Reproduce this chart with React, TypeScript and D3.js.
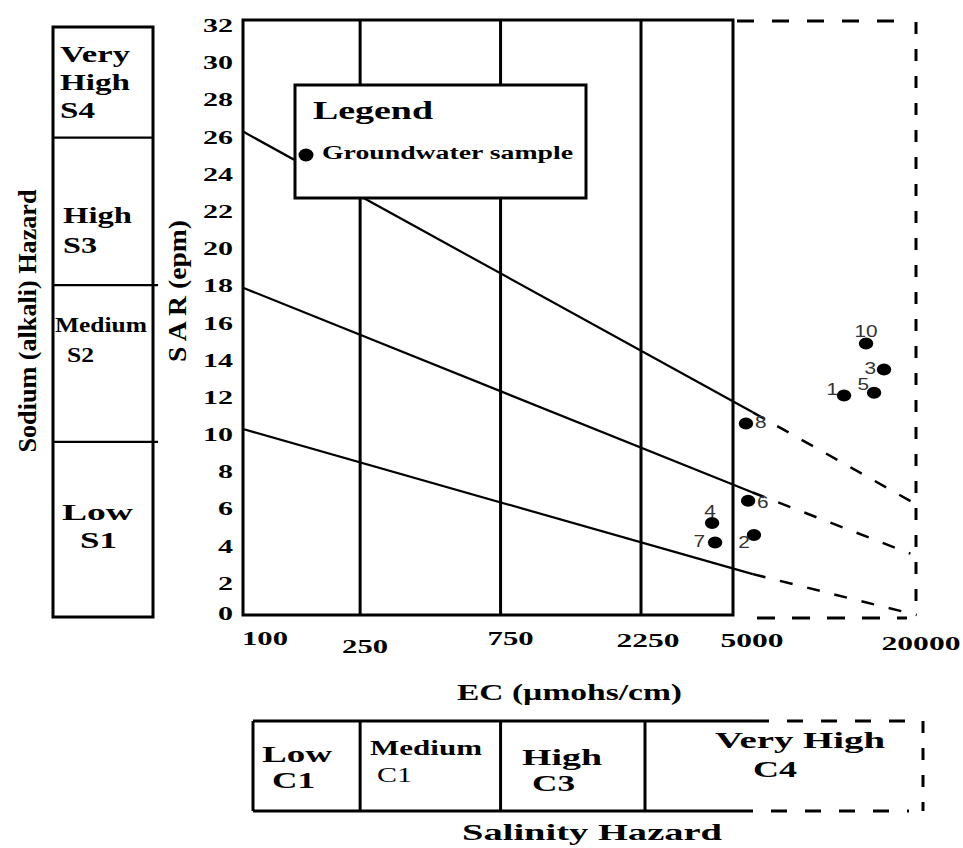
import React from 'react';
import * as d3 from 'd3';

// ---------------- DATA ----------------
const ecTicks = [100, 250, 750, 2250, 5000, 20000];
const ecGridValues = [250, 750, 2250];
const sarTicks = [0, 2, 4, 6, 8, 10, 12, 14, 16, 18, 20, 22, 24, 26, 28, 30, 32];

const sampleIds = ['1', '2', '3', '4', '5', '6', '7', '8', '10'];
const sampleEC = [11490, 5850, 15500, 4170, 14390, 5600, 4280, 5510, 13550];
const sampleSAR = [11.8, 4.3, 13.2, 4.95, 11.95, 6.15, 3.9, 10.3, 14.6];

// hazard boundary lines: [start, end of solid part, end of dashed part]
const lineS3S4EC = [100, 5800, 20000];
const lineS3S4SAR = [26.0, 10.9, 5.9];
const lineS2S3EC = [100, 5770, 18900];
const lineS2S3SAR = [17.6, 6.6, 3.3];
const lineS1S2EC = [100, 5800, 19800];
const lineS1S2SAR = [10.0, 2.2, 0.0];

// sodium strip class bounds (SAR)
const sodiumBounds = [0, 9.5, 18, 26, 32];

// ---------------- LAYOUT ----------------
const W = 963;
const H = 848;
const serif = '"Liberation Serif", "Times New Roman", serif';
const sans = '"Liberation Sans", Arial, sans-serif';

const x = d3.scaleLog().domain([100, 2250, 5000, 20000]).range([243, 641, 733, 918]);
const y = d3.scaleLinear().domain([0, 32]).range([615, 20]);
const yStrip = d3.scaleLinear().domain([0, 32]).range([617, 27]);

const ecLabelDx = [0, 5, 10, 7, 19, 3];
const ecLabelDy = [0, 8, 0, 2, 2, 5];

const pointLabelPlace: { dx: number; dy: number; anchor: string }[] = [
  { dx: -6, dy: -1, anchor: 'end' },   // 1
  { dx: -4, dy: 13, anchor: 'end' },   // 2
  { dx: -8, dy: 4, anchor: 'end' },    // 3
  { dx: -2, dy: -6, anchor: 'middle' },// 4
  { dx: -5, dy: -3, anchor: 'end' },   // 5
  { dx: 9, dy: 7, anchor: 'start' },   // 6
  { dx: -10, dy: 5, anchor: 'end' },   // 7
  { dx: 9, dy: 5, anchor: 'start' },   // 8
  { dx: 0, dy: -7, anchor: 'middle' }, // 10
];

function HText(props: {
  x: number; y: number; w: number; size: number; weight?: string; children: any; family?: string;
}) {
  const { x: tx, y: ty, w, size, weight = 'bold', children, family = serif } = props;
  return (
    <text
      x={tx}
      y={ty}
      fontSize={size}
      fontWeight={weight}
      fontFamily={family}
      textLength={w}
      lengthAdjust="spacingAndGlyphs"
      fill="#000"
    >
      {children}
    </text>
  );
}

function hazardLine(ecs: number[], sars: number[], key: string) {
  const line = d3.line<[number, number]>().x((d) => x(d[0])).y((d) => y(d[1]));
  const pts: [number, number][] = ecs.map((e, i) => [e, sars[i]]);
  return (
    <g key={key}>
      <path d={line([pts[0], pts[1]]) || ''} stroke="#000" strokeWidth={2.2} fill="none" />
      <path
        d={line([pts[1], pts[2]]) || ''}
        stroke="#000"
        strokeWidth={2.5}
        fill="none"
        strokeDasharray="13,15"
      />
    </g>
  );
}

export default function App() {
  const x0 = x(100);
  const x5000 = x(5000);
  const xEnd = x(20000);
  const yTop = y(32);
  const yBot = y(0);

  const digitW = 15;

  const stripTop = 721;
  const stripBot = 811;
  const stripLeft = x0 + 10;
  const stripRight = xEnd + 5;

  return (
    <svg
      width={W}
      height={H}
      style={{ position: 'absolute', left: 0, top: 0, background: '#fff' }}
    >
      <rect x={0} y={0} width={W} height={H} fill="#fff" />

      {/* ---------- Sodium hazard strip ---------- */}
      <g>
        <rect
          x={53}
          y={yStrip(32)}
          width={100}
          height={yStrip(0) - yStrip(32)}
          fill="none"
          stroke="#000"
          strokeWidth={3}
        />
        {sodiumBounds.slice(1, -1).map((b) => (
          <line key={b} x1={53} x2={b === 26 ? 153 : 158} y1={yStrip(b)} y2={yStrip(b)} stroke="#000" strokeWidth={2.2} />
        ))}
        <HText x={60} y={62} w={70} size={23}>Very</HText>
        <HText x={60} y={90} w={70} size={23}>High</HText>
        <HText x={60} y={118} w={35} size={23}>S4</HText>
        <HText x={63} y={223} w={69} size={23}>High</HText>
        <HText x={63} y={253} w={34} size={23}>S3</HText>
        <HText x={55} y={332} w={92} size={21}>Medium</HText>
        <HText x={67} y={362} w={27} size={21}>S2</HText>
        <HText x={62} y={520} w={71} size={24}>Low</HText>
        <HText x={80} y={548} w={37} size={24}>S1</HText>
      </g>

      {/* rotated axis titles */}
      <text
        transform={`translate(36, 321) rotate(-90)`}
        textAnchor="middle"
        fontFamily={serif}
        fontWeight="bold"
        fontSize={26}
        textLength={263}
        lengthAdjust="spacingAndGlyphs"
      >
        Sodium (alkali) Hazard
      </text>
      <text
        transform={`translate(186, 291) rotate(-90)`}
        textAnchor="middle"
        fontFamily={serif}
        fontWeight="bold"
        fontSize={26}
        textLength={142}
        lengthAdjust="spacingAndGlyphs"
      >
        S A R (epm)
      </text>

      {/* ---------- Y tick labels ---------- */}
      {sarTicks.map((v) => {
        const s = String(v);
        const w = s.length * digitW;
        const base = Math.min(y(v) + 12, 620);
        return (
          <HText key={v} x={233 - w} y={base} w={w} size={18}>
            {s}
          </HText>
        );
      })}

      {/* ---------- Plot frame ---------- */}
      {ecGridValues.map((v) => (
        <line key={v} x1={x(v)} x2={x(v)} y1={yTop} y2={yBot} stroke="#000" strokeWidth={3} />
      ))}
      <path
        d={`M${x5000},${yTop} L${x0},${yTop} L${x0},${yBot} L${x5000},${yBot} Z`}
        fill="none"
        stroke="#000"
        strokeWidth={3}
      />
      <line x1={x5000 + 4} x2={xEnd - 18} y1={yTop + 1} y2={yTop + 1} stroke="#000" strokeWidth={3} strokeDasharray="17,18" />
      <line x1={xEnd - 2} x2={xEnd - 2} y1={yTop + 2} y2={yBot} stroke="#000" strokeWidth={3} strokeDasharray="12,15" />
      <line x1={x5000 + 24} x2={xEnd - 11} y1={yBot + 3} y2={yBot + 3} stroke="#000" strokeWidth={3} strokeDasharray="18,17" />

      {/* ---------- Hazard boundary lines ---------- */}
      {hazardLine(lineS3S4EC, lineS3S4SAR, 's3s4')}
      {hazardLine(lineS2S3EC, lineS2S3SAR, 's2s3')}
      {hazardLine(lineS1S2EC, lineS1S2SAR, 's1s2')}

      {/* ---------- Legend ---------- */}
      <rect x={295} y={85} width={291} height={113} fill="#fff" stroke="#000" strokeWidth={3} />
      <HText x={313} y={119} w={120} size={26}>Legend</HText>
      <ellipse cx={306} cy={155} rx={7.5} ry={6.5} fill="#000" />
      <HText x={322} y={159} w={251} size={18}>Groundwater sample</HText>

      {/* ---------- Samples ---------- */}
      {sampleIds.map((id, i) => {
        const cx = x(sampleEC[i]);
        const cy = y(sampleSAR[i]);
        const p = pointLabelPlace[i];
        return (
          <g key={id}>
            <ellipse cx={cx} cy={cy} rx={7.2} ry={6} fill="#000" />
            <text
              transform={`translate(${cx + p.dx}, ${cy + p.dy}) scale(1.3, 1)`}
              textAnchor={p.anchor}
              fontFamily={sans}
              fontSize={16}
              fill="#333"
            >
              {id}
            </text>
          </g>
        );
      })}

      {/* ---------- X tick labels ---------- */}
      {ecTicks.map((v, i) => {
        const s = String(v);
        const w = s.length * 16 - (s.length > 3 ? 1 : 2);
        const cx = i === 0 ? x(v) - 1 + w / 2 : x(v) + ecLabelDx[i];
        return (
          <HText key={v} x={cx - w / 2} y={645 + ecLabelDy[i]} w={w} size={19}>
            {s}
          </HText>
        );
      })}

      {/* x axis title */}
      <HText x={457} y={700} w={225} size={24}>EC (µmohs/cm)</HText>

      {/* ---------- Salinity hazard strip ---------- */}
      <g>
        <line x1={stripLeft} x2={stripLeft} y1={stripTop} y2={stripBot} stroke="#000" strokeWidth={3} />
        {ecGridValues.map((v) => (
          <line key={v} x1={x(v) + (v === 2250 ? 4 : 0)} x2={x(v) + (v === 2250 ? 4 : 0)} y1={stripTop} y2={stripBot} stroke="#000" strokeWidth={3} />
        ))}
        <line x1={stripLeft} x2={x5000 + 20} y1={stripTop} y2={stripTop} stroke="#000" strokeWidth={3} />
        <line x1={x5000 + 20} x2={stripRight - 10} y1={stripTop} y2={stripTop} stroke="#000" strokeWidth={3} strokeDasharray="16,18" />
        <line x1={stripLeft} x2={x5000 + 4} y1={stripBot} y2={stripBot} stroke="#000" strokeWidth={3} />
        <line x1={x5000 + 4} x2={stripRight - 14} y1={stripBot} y2={stripBot} stroke="#000" strokeWidth={3} strokeDasharray="16,18" />
        <line x1={stripRight} x2={stripRight} y1={stripTop} y2={stripBot} stroke="#000" strokeWidth={3} strokeDasharray="12,15" />

        <HText x={262} y={762} w={70} size={24}>Low</HText>
        <HText x={272} y={788} w={43} size={24}>C1</HText>
        <HText x={370} y={755} w={112} size={22}>Medium</HText>
        <HText x={377} y={782} w={35} size={22} weight="normal">C1</HText>
        <HText x={522} y={765} w={80} size={24}>High</HText>
        <HText x={532} y={791} w={43} size={24}>C3</HText>
        <HText x={715} y={748} w={170} size={24}>Very High</HText>
        <HText x={753} y={777} w={44} size={24}>C4</HText>
      </g>

      <HText x={462} y={840} w={260} size={24}>Salinity Hazard</HText>
    </svg>
  );
}
